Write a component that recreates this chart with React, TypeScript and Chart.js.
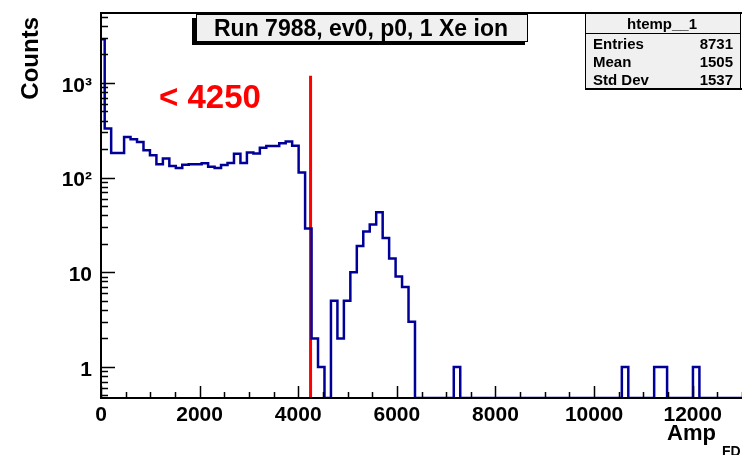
import React, { useEffect, useRef } from 'react';
import { Chart, registerables } from 'chart.js';

Chart.register(...registerables);

// ---- texts ----
const TITLE = 'Run 7988, ev0, p0, 1 Xe ion';
const HIST_NAME = 'htemp__1';
const STAT_LABELS = ['Entries', 'Mean', 'Std Dev'];
const STAT_VALUES = ['8731', '1505', '1537'];
const CUT_LABEL = '< 4250';
const X_TITLE = 'Amp';
const X_TITLE_SUB = 'FD';
const Y_TITLE = 'Counts';

// ---- cut line ----
const CUT_VALUE = 4250;
const CUT_LINE_TOP = 1190;

// ---- histogram (100 bins) ----
const BIN_START = -56;
const BIN_WIDTH = 131.1;
const COUNTS = [
  2900, 330, 182, 182, 269, 254, 238, 195, 172, 138,
  159, 133, 126, 137, 138, 138, 142, 130, 126, 136,
  143, 179, 143, 184, 180, 207, 216, 216, 230, 240,
  217, 113, 29, 2, 1, 0, 5, 2, 5, 10,
  19, 27, 32, 43, 23, 14, 9, 7, 3, 0,
  0, 0, 0, 0, 0, 1, 0, 0, 0, 0,
  0, 0, 0, 0, 0, 0, 0, 0, 0, 0,
  0, 0, 0, 0, 0, 0, 0, 0, 0, 0,
  0, 1, 0, 0, 0, 0, 1, 1, 0, 0,
  0, 0, 1, 0, 0, 0, 0, 0, 0, 0,
];

// ---- axes ----
const X_MIN = 0;
const X_MAX = 13000;
const X_TICKS = [0, 2000, 4000, 6000, 8000, 10000, 12000];
const X_MINOR_STEP = 500;
const Y_MIN = 0.47;
const Y_MAX = 5480;
const Y_TICKS = [1, 10, 100, 1000];
const Y_TICK_LABELS = ['1', '10', '10²', '10³'];

const FONT = "'Liberation Sans', Arial, Helvetica, sans-serif";
const HIST_COLOR = '#000099';
const BOX_FILL = '#f0f0f0';

function histPoints() {
  const pts: { x: number; y: number }[] = [{ x: BIN_START, y: Y_MIN }];
  COUNTS.forEach((c, i) => {
    const lo = BIN_START + i * BIN_WIDTH;
    const v = c > 0 ? c : Y_MIN;
    pts.push({ x: lo, y: v }, { x: lo + BIN_WIDTH, y: v });
  });
  return pts;
}

const framePlugin = {
  id: 'rootFrame',
  afterDatasetsDraw(chart: any) {
    const { ctx, chartArea: a, scales } = chart;
    const xs = scales.x;
    const ys = scales.y;
    ctx.save();
    ctx.strokeStyle = '#000';
    ctx.lineWidth = 1.5;
    ctx.beginPath();
    for (let v = X_MIN; v <= X_MAX; v += X_MINOR_STEP) {
      const px = Math.round(xs.getPixelForValue(v)) + 0.5;
      const len = X_TICKS.includes(v) ? 12 : 6;
      ctx.moveTo(px, a.bottom);
      ctx.lineTo(px, a.bottom - len);
    }
    for (let e = -1; e <= 3; e++) {
      for (let m = 1; m <= 9; m++) {
        const v = m * Math.pow(10, e);
        if (v < Y_MIN || v > Y_MAX) continue;
        const py = Math.round(ys.getPixelForValue(v)) + 0.5;
        const len = m === 1 ? 14 : 7;
        ctx.moveTo(a.left, py);
        ctx.lineTo(a.left + len, py);
      }
    }
    ctx.stroke();
    ctx.lineWidth = 2;
    ctx.beginPath();
    ctx.moveTo(a.right, a.top);
    ctx.lineTo(a.left, a.top);
    ctx.lineTo(a.left, a.bottom);
    ctx.lineTo(a.right, a.bottom);
    ctx.stroke();
    ctx.restore();
  },
  afterDraw(chart: any) {
    const { ctx } = chart;
    ctx.save();
    // title pave with shadow
    ctx.fillStyle = '#000';
    ctx.fillRect(192, 18, 333, 27);
    ctx.fillStyle = BOX_FILL;
    ctx.fillRect(196, 14, 332, 28);
    ctx.strokeStyle = '#000';
    ctx.lineWidth = 1;
    ctx.strokeRect(196.5, 14.5, 331, 27);
    ctx.fillStyle = '#000';
    ctx.font = `bold 23px ${FONT}`;
    ctx.textAlign = 'center';
    ctx.textBaseline = 'alphabetic';
    ctx.fillText(TITLE, 361, 36);

    // stats box
    ctx.fillStyle = BOX_FILL;
    ctx.fillRect(585, 13, 156, 75);
    ctx.strokeStyle = '#000';
    ctx.lineWidth = 1;
    ctx.strokeRect(585.5, 13.5, 155, 75);
    ctx.fillStyle = '#000';
    ctx.fillRect(585, 88, 157, 2);
    ctx.beginPath();
    ctx.moveTo(585, 33.5);
    ctx.lineTo(741, 33.5);
    ctx.stroke();
    ctx.font = `bold 15px ${FONT}`;
    ctx.textAlign = 'center';
    ctx.fillText(HIST_NAME, 662, 28.5);
    const rowBase = [48.5, 66.5, 85];
    STAT_LABELS.forEach((l, i) => {
      ctx.textAlign = 'left';
      ctx.fillText(l, 593, rowBase[i]);
      ctx.textAlign = 'right';
      ctx.fillText(STAT_VALUES[i], 733, rowBase[i]);
    });

    // cut label
    ctx.fillStyle = '#ff0000';
    ctx.font = `bold 33px ${FONT}`;
    ctx.textAlign = 'left';
    ctx.fillText(CUT_LABEL, 159, 108);

    // axis titles
    ctx.fillStyle = '#000';
    ctx.font = `bold 22px ${FONT}`;
    ctx.textAlign = 'left';
    ctx.fillText(X_TITLE, 667, 440);
    ctx.font = `bold 14px ${FONT}`;
    ctx.fillText(X_TITLE_SUB, 722, 456);

    ctx.translate(38, 17);
    ctx.rotate(-Math.PI / 2);
    ctx.font = `bold 24px ${FONT}`;
    ctx.textAlign = 'right';
    ctx.fillText(Y_TITLE, 0, 0);
    ctx.restore();
  },
};

export default function App() {
  const ref = useRef<HTMLCanvasElement>(null);
  useEffect(() => {
    document.body.style.margin = '0';
    const canvas = ref.current!;
    const chart = new Chart(canvas, {
      type: 'line',
      data: {
        datasets: [
          {
            data: histPoints(),
            borderColor: HIST_COLOR,
            borderWidth: 2.5,
            pointRadius: 0,
            tension: 0,
            fill: false,
          },
          {
            data: [
              { x: CUT_VALUE, y: Y_MIN },
              { x: CUT_VALUE, y: CUT_LINE_TOP },
            ],
            borderColor: '#ff0000',
            borderWidth: 3,
            pointRadius: 0,
            fill: false,
          },
        ],
      },
      options: {
        animation: false,
        responsive: false,
        devicePixelRatio: 1,
        layout: { autoPadding: false, padding: { top: 13, left: 0, right: 0, bottom: 0 } },
        plugins: { legend: { display: false }, tooltip: { enabled: false }, title: { display: false } },
        scales: {
          x: {
            type: 'linear',
            min: X_MIN,
            max: X_MAX,
            grid: { display: false, drawTicks: false },
            border: { display: false },
            afterFit: (s: any) => {
              s.height = 57;
              s.paddingLeft = 0;
              s.paddingRight = 0;
              s.paddingTop = 0;
              s.paddingBottom = 0;
            },
            afterBuildTicks: (s: any) => {
              s.ticks = X_TICKS.map((v) => ({ value: v }));
            },
            ticks: {
              autoSkip: false,
              maxRotation: 0,
              padding: 5,
              color: '#000',
              font: { family: FONT, size: 21, weight: 'bold' },
              callback: (v: any) => String(v),
            },
          },
          y: {
            type: 'logarithmic',
            min: Y_MIN,
            max: Y_MAX,
            grid: { display: false, drawTicks: false },
            border: { display: false },
            afterFit: (s: any) => {
              s.width = 101;
              s.paddingLeft = 0;
              s.paddingRight = 0;
              s.paddingTop = 0;
              s.paddingBottom = 0;
            },
            afterBuildTicks: (s: any) => {
              s.ticks = Y_TICKS.map((v) => ({ value: v }));
            },
            ticks: {
              autoSkip: false,
              padding: 9,
              labelOffset: 3,
              color: '#000',
              font: { family: FONT, size: 21, weight: 'bold' },
              callback: (v: any) => {
                const i = Y_TICKS.findIndex((t) => Math.abs(t - v) < 1e-6 * t);
                return i >= 0 ? Y_TICK_LABELS[i] : '';
              },
            },
          },
        },
      } as any,
      plugins: [framePlugin],
    });
    return () => chart.destroy();
  }, []);
  return (
    <div style={{ width: 742, height: 455, position: 'relative', background: '#fff' }}>
      <canvas ref={ref} width={742} height={455} style={{ display: 'block', width: 742, height: 455 }} />
    </div>
  );
}
